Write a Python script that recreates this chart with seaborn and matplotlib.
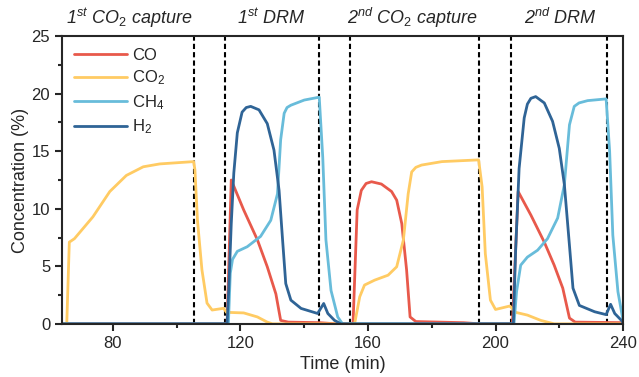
import numpy as np
import pandas as pd
import matplotlib
matplotlib.use('Agg')
import matplotlib.pyplot as plt
import seaborn as sns
from matplotlib.ticker import MultipleLocator

# veriler (okunan noktalar)
co_t = [64, 115.8, 117.1, 121, 125.3, 128.4, 131.1, 132.6, 135, 145, 150, 155.3, 156.6, 157.9, 159.4, 161.1,
        164.2, 167.4, 169, 170.6, 172.1, 173.2, 175, 190, 195, 205.3, 207.1, 211.1, 215.3, 218.4, 221.1,
        223.2, 225, 240]
co_v = [0, 0, 12.5, 9.9, 7.3, 4.96, 2.6, 0.3, 0.15, 0.1, 0, 0, 9.9, 11.6, 12.2, 12.35,
        12.15, 11.5, 10.75, 8.7, 4.7, 0.6, 0.2, 0.1, 0, 0, 11.5, 9.45, 7.1, 5.1, 3.1,
        0.5, 0.15, 0.1]

co2_t = [64, 65.5, 66.3, 67.9, 73.7, 79.0, 84.2, 89.5, 94.7, 100, 105.3, 105.7, 106.5, 107.9, 109.5, 111.1,
         114.7, 115.6, 121, 125.3, 128.4, 130, 155.8, 157.4, 158.9, 162.1, 166.3, 169, 171.1, 172.6, 173.7,
         175.0, 176.8, 183.2, 194.7, 195.8, 196.8, 198.4, 200, 204.5, 206.3, 210, 214.2, 218.4, 240]
co2_v = [0, 0, 7.1, 7.4, 9.3, 11.5, 12.9, 13.65, 13.9, 14.0, 14.1, 13.4, 9.0, 4.7, 1.8, 1.2,
         1.35, 1.0, 0.95, 0.6, 0.15, 0, 0, 2.35, 3.37, 3.8, 4.23, 4.96, 7.3, 11.3, 13.2,
         13.6, 13.8, 14.1, 14.25, 11.9, 6.1, 2.06, 1.25, 1.55, 1.0, 0.76, 0.3, 0, 0]

ch4_t = [64, 116.2, 116.8, 117.5, 119, 122.1, 126.3, 129.5, 131.6, 132.6, 133.7, 134.6, 135.8, 140, 144.7,
         145.8, 146.8, 148.4, 150.5, 152, 205.8, 206.6, 207.9, 210, 213.2, 216.3, 219.5, 221.6, 223.2,
         224.7, 226.2, 228.9, 234.7, 235.8, 236.8, 238.4, 240]
ch4_v = [0, 0, 4.4, 5.6, 6.3, 6.7, 7.6, 9.0, 11.3, 16.0, 18.3, 18.8, 19.0, 19.45, 19.7,
         14.5, 7.3, 2.9, 0.6, 0, 0, 2.8, 5.1, 5.8, 6.4, 7.4, 9.2, 12.1, 17.3,
         18.9, 19.2, 19.4, 19.55, 15, 7.7, 2.8, 0.3]

h2_t = [64, 115.8, 116.3, 117.1, 117.9, 119, 120.5, 121.8, 123.2, 125.8, 128.4, 130.5, 132.1, 133.2, 134.2,
        135.8, 139, 144.2, 146.1, 147.4, 149.5, 151.5, 205.6, 206.3, 207.4, 209, 210.0, 211.1, 212.6, 215.3,
        217.9, 220, 221.6, 223.2, 224.3, 226.3, 231.1, 234.7, 236.1, 237.4, 239.5, 240]
h2_v = [0, 0, 2.9, 8.7, 13.1, 16.6, 18.4, 18.8, 18.9, 18.6, 17.4, 15.1, 11.6, 7.3, 3.5,
        2.06, 1.34, 0.9, 1.77, 0.9, 0.3, 0, 0, 6.3, 13.5, 17.9, 19.1, 19.6, 19.75, 19.2,
        17.6, 15.25, 12.1, 6.8, 3.1, 1.6, 1.05, 0.8, 1.7, 0.9, 0.3, 0.1]

gases = ['CO', 'CO$_\\mathrm{2}$', 'CH$_\\mathrm{4}$', 'H$_\\mathrm{2}$']
renkler = ['#E8594B', '#FFCB63', '#68BCDA', '#2F6496']

# faz sinirlari ve etiketleri
faz_cizgileri = [105.3, 115.1, 144.7, 154.5, 194.9, 204.8, 235.0]
faz_etiket = ['1$^\\mathit{st}$ CO$_\\mathit{2}$ capture', '1$^\\mathit{st}$ DRM',
              '2$^\\mathit{nd}$ CO$_\\mathit{2}$ capture', '2$^\\mathit{nd}$ DRM']
faz_merkez = [85.0, 129.5, 174.0, 220.3]

df = pd.concat([
    pd.DataFrame({'Time': co_t, 'Conc': co_v, 'Gas': gases[0]}),
    pd.DataFrame({'Time': co2_t, 'Conc': co2_v, 'Gas': gases[1]}),
    pd.DataFrame({'Time': ch4_t, 'Conc': ch4_v, 'Gas': gases[2]}),
    pd.DataFrame({'Time': h2_t, 'Conc': h2_v, 'Gas': gases[3]}),
], ignore_index=True)

sns.set_style('ticks')
plt.rcParams['font.family'] = ['Liberation Sans', 'DejaVu Sans']
plt.rcParams['mathtext.fontset'] = 'custom'
plt.rcParams['mathtext.rm'] = 'Liberation Sans'
plt.rcParams['mathtext.it'] = 'Liberation Sans:italic'

fig = plt.figure(figsize=(6.39, 3.77), dpi=100)
ax = fig.add_axes([0.097, 0.141, 0.878, 0.763])

for x in faz_cizgileri:
    ax.axvline(x, color='black', lw=1.5, ls=(0, (2.5, 1.5)), zorder=1)

sns.lineplot(data=df, x='Time', y='Conc', hue='Gas', hue_order=gases, palette=renkler,
             estimator=None, lw=2, ax=ax, zorder=2)

ax.set_xlim(64, 240)
ax.set_ylim(0, 25)
ax.xaxis.set_major_locator(MultipleLocator(40))
ax.xaxis.set_minor_locator(MultipleLocator(20))
ax.yaxis.set_major_locator(MultipleLocator(5))
ax.yaxis.set_minor_locator(MultipleLocator(2.5))
ax.tick_params(which='both', direction='out', width=1.5, labelsize=12)
ax.tick_params(which='major', length=5)
ax.tick_params(which='minor', length=3)
for s in ax.spines.values():
    s.set_linewidth(1.5)
    s.set_visible(True)
ax.set_xlabel('Time (min)', fontsize=13)
ax.set_ylabel('Concentration (%)', fontsize=13, labelpad=2)

for t, lab in zip(faz_merkez, faz_etiket):
    ax.text(t, 1.0625, lab, transform=ax.get_xaxis_transform(), ha='center', va='center',
            fontsize=13, style='italic')

leg = ax.legend(loc='upper left', frameon=False, fontsize=12, handlelength=3.2,
                handletextpad=0.3, borderaxespad=0.3, labelspacing=0.35)
for h in leg.get_lines():
    h.set_linewidth(2)

fig.savefig('out.png', dpi=100)
